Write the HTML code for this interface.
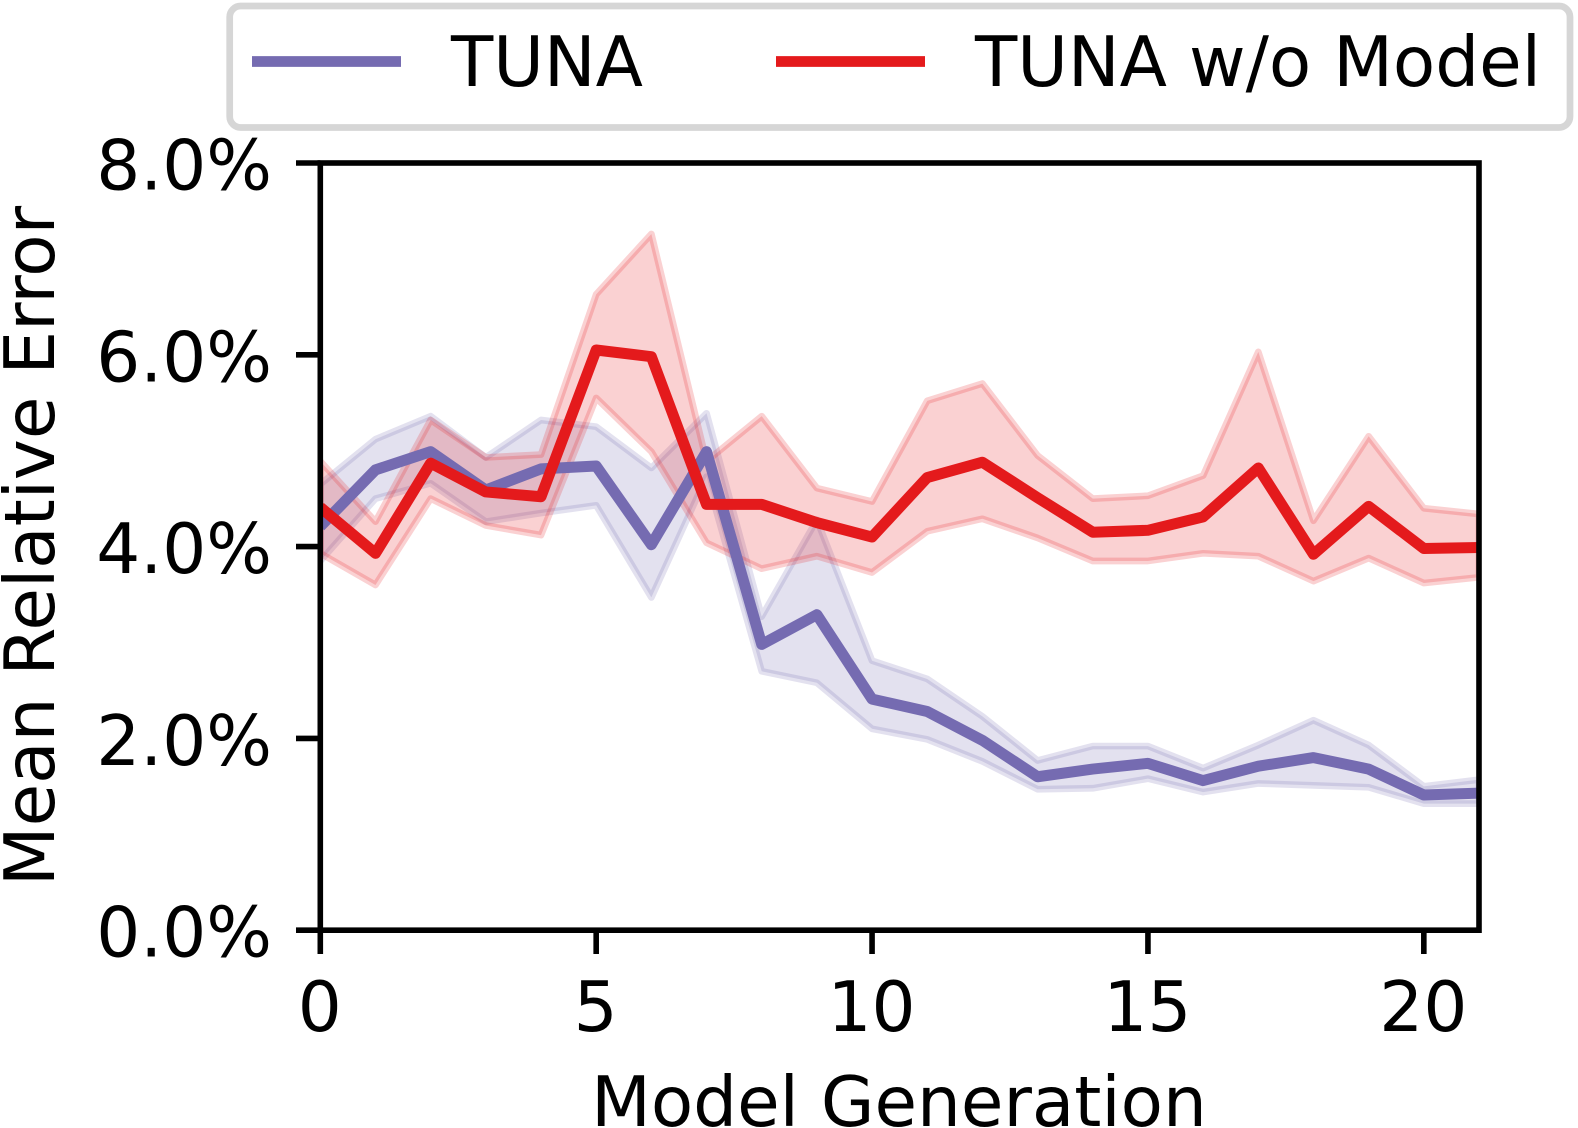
<!DOCTYPE html>
<html lang="en">
<head>
<meta charset="utf-8">
<title>Mean Relative Error by Model Generation</title>
<style>
html,body{margin:0;padding:0;background:#fff;width:1578px;height:1128px;overflow:hidden}
svg{display:block}
text{font-family:"DejaVu Sans","Liberation Sans",sans-serif;fill:#000}
</style>
</head>
<body>
<svg id="chart" xmlns="http://www.w3.org/2000/svg" width="1578" height="1128" viewBox="0 0 1578 1128">
  <defs>
    <clipPath id="plot-clip"><rect x="320.3" y="163" width="1158.7" height="767.2"></rect></clipPath>
  </defs>
  <g id="bands" clip-path="url(#plot-clip)"></g>
  <g id="lines" clip-path="url(#plot-clip)"></g>
  <rect x="320.3" y="163" width="1158.7" height="767.2" fill="none" stroke="#000" stroke-width="5.6"></rect>
  <g id="x-axis"></g>
  <g id="y-axis"></g>
  <text x="899" y="1126" text-anchor="middle" font-size="69.2">Model Generation</text>
  <text transform="translate(54 546) rotate(-90)" text-anchor="middle" font-size="69.2">Mean Relative Error</text>
  <g>
    <rect x="229.7" y="6" width="1340.3" height="121.5" rx="11" ry="11" fill="#fff" stroke="#d6d6d6" stroke-width="6.7"></rect>
    <line x1="252" x2="401" y1="61.5" y2="61.5" stroke="#756bb1" stroke-width="10.7"></line>
    <text x="451" y="86" font-size="69.2">TUNA</text>
    <line x1="776" x2="925" y1="61.5" y2="61.5" stroke="#e41a1c" stroke-width="10.7"></line>
    <text x="975" y="86" font-size="69.2">TUNA w/o Model</text>
  </g>
</svg>
<script>
const generations = [0,1,2,3,4,5,6,7,8,9,10,11,12,13,14,15,16,17,18,19,20,21];
const tunaMean = [4.21,4.80,4.99,4.59,4.81,4.84,4.02,4.99,2.98,3.29,2.41,2.28,1.98,1.60,1.68,1.74,1.56,1.71,1.80,1.68,1.41,1.43];
const tunaUpper = [4.65,5.12,5.36,4.93,5.32,5.25,4.82,5.39,3.27,4.28,2.81,2.62,2.23,1.77,1.92,1.92,1.69,1.93,2.19,1.93,1.50,1.57];
const tunaLower = [3.85,4.50,4.66,4.26,4.35,4.43,3.47,4.73,2.70,2.58,2.10,1.99,1.76,1.47,1.48,1.58,1.44,1.53,1.51,1.49,1.32,1.32];
const noModelMean = [4.41,3.93,4.87,4.57,4.52,6.05,5.98,4.44,4.44,4.25,4.10,4.72,4.88,4.51,4.15,4.17,4.31,4.82,3.92,4.42,3.98,3.99];
const noModelUpper = [4.89,4.26,5.32,4.93,4.96,6.63,7.26,4.89,5.36,4.61,4.47,5.52,5.70,4.95,4.50,4.53,4.74,6.03,4.27,5.15,4.40,4.34];
const noModelLower = [3.93,3.60,4.50,4.22,4.12,5.55,4.99,4.04,3.77,3.90,3.73,4.16,4.29,4.09,3.85,3.85,3.93,3.90,3.64,3.88,3.62,3.68];
const xTickValues = [0,5,10,15,20];
const yTickValues = [0,2,4,6,8];
const yTickLabels = ["0.0%","2.0%","4.0%","6.0%","8.0%"];

const NS = "http://www.w3.org/2000/svg";
const xScale = v => 320.3 + (v - 0) * (1158.7 / 21);
const yScale = v => 930.2 - v * (767.2 / 8);
const pts = (xs, ys) => xs.map((x, i) => xScale(x).toFixed(2) + "," + yScale(ys[i]).toFixed(2));

function makeBand(upper, lower, color) {
  const el = document.createElementNS(NS, "polygon");
  el.setAttribute("points", pts(generations, upper).concat(pts(generations, lower).reverse()).join(" "));
  el.setAttribute("fill", color);
  el.setAttribute("fill-opacity", "0.2");
  el.setAttribute("stroke", color);
  el.setAttribute("stroke-opacity", "0.2");
  el.setAttribute("stroke-width", "6.7");
  el.setAttribute("stroke-linejoin", "round");
  return el;
}
function makeLine(values, color) {
  const el = document.createElementNS(NS, "polyline");
  el.setAttribute("points", pts(generations, values).join(" "));
  el.setAttribute("fill", "none");
  el.setAttribute("stroke", color);
  el.setAttribute("stroke-width", "11");
  el.setAttribute("stroke-linejoin", "round");
  return el;
}

const bands = document.getElementById("bands");
const lines = document.getElementById("lines");

const tunaBand = makeBand(tunaUpper, tunaLower, "#756bb1");


bands.appendChild(tunaBand);

const noModelBand = makeBand(noModelUpper, noModelLower, "#e41a1c");


bands.appendChild(noModelBand);

const tunaLine = makeLine(tunaMean, "#756bb1");


lines.appendChild(tunaLine);

const noModelLine = makeLine(noModelMean, "#e41a1c");


lines.appendChild(noModelLine);

const xAxis = document.getElementById("x-axis");
xTickValues.forEach(v => {
  const tick = document.createElementNS(NS, "line");
  
  
  tick.setAttribute("x1", xScale(v));
  tick.setAttribute("x2", xScale(v));
  tick.setAttribute("y1", 930.2);
  tick.setAttribute("y2", 954);
  tick.setAttribute("stroke", "#000");
  tick.setAttribute("stroke-width", "5.6");
  xAxis.appendChild(tick);
  const label = document.createElementNS(NS, "text");
  
  
  label.setAttribute("x", xScale(v) - 0.5);
  label.setAttribute("y", 1031);
  label.setAttribute("text-anchor", "middle");
  label.setAttribute("font-size", "69.2");
  label.textContent = String(v);
  xAxis.appendChild(label);
});

const yAxis = document.getElementById("y-axis");
yTickValues.forEach((v, i) => {
  const tick = document.createElementNS(NS, "line");
  
  
  tick.setAttribute("x1", 320.3);
  tick.setAttribute("x2", 296);
  tick.setAttribute("y1", yScale(v));
  tick.setAttribute("y2", yScale(v));
  tick.setAttribute("stroke", "#000");
  tick.setAttribute("stroke-width", "5.6");
  yAxis.appendChild(tick);
  const label = document.createElementNS(NS, "text");
  
  
  label.setAttribute("x", 272);
  label.setAttribute("y", yScale(v) + 26.5);
  label.setAttribute("text-anchor", "end");
  label.setAttribute("font-size", "69.2");
  label.textContent = yTickLabels[i];
  yAxis.appendChild(label);
});
</script>
</body>
</html>
